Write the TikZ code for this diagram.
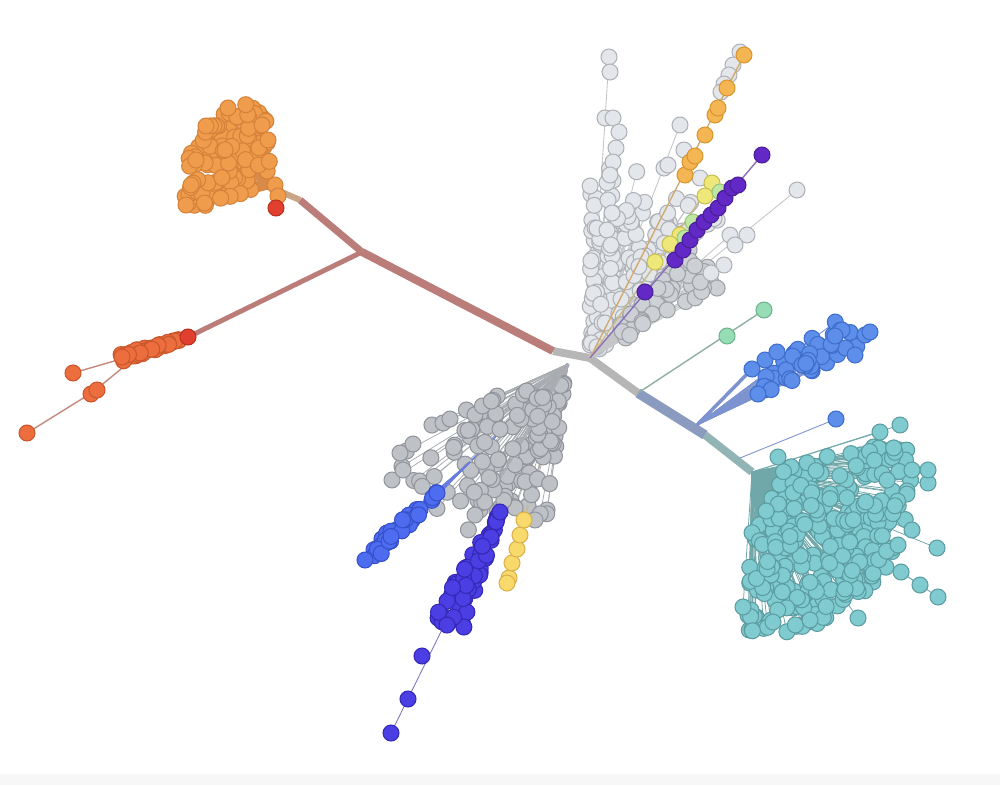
\documentclass[tikz,border=0pt]{standalone}
\usetikzlibrary{calc}
\definecolor{orangefill}{HTML}{EF9D4C}\definecolor{orangeline}{HTML}{D5813A}\definecolor{orangelinkc}{HTML}{D88A48}
\definecolor{redfill}{HTML}{EC6E3E}\definecolor{redline}{HTML}{C9562C}\definecolor{redlinkc}{HTML}{C38A7C}
\definecolor{hotfill}{HTML}{E2402E}\definecolor{hotline}{HTML}{B83020}
\definecolor{tealfill}{HTML}{7FCBD0}\definecolor{tealline}{HTML}{5C9CA1}\definecolor{teallinkc}{HTML}{70A7A9}
\definecolor{grayfill}{HTML}{BEC1C6}\definecolor{grayline}{HTML}{91959B}\definecolor{graylinkc}{HTML}{A9ADB1}
\definecolor{palefill}{HTML}{E3E7EB}\definecolor{paleline}{HTML}{AEB2B6}\definecolor{palelinkc}{HTML}{C4C6C8}
\definecolor{dimfill}{HTML}{CDD1D6}\definecolor{dimline}{HTML}{9DA1A6}
\definecolor{bluefill}{HTML}{5D8EEA}\definecolor{blueline}{HTML}{3E6DCC}\definecolor{bluelinkc}{HTML}{7D93CF}
\definecolor{royalfill}{HTML}{4D6CF0}\definecolor{royalline}{HTML}{3550C8}\definecolor{royallinkc}{HTML}{6A7DE0}
\definecolor{indigofill}{HTML}{4B3EE2}\definecolor{indigoline}{HTML}{3528B5}\definecolor{indigolinkc}{HTML}{8077BE}
\definecolor{yellowfill}{HTML}{F8D96B}\definecolor{yellowline}{HTML}{DAB048}\definecolor{yellowlinkc}{HTML}{C9BA8A}
\definecolor{goldfill}{HTML}{F4B553}\definecolor{goldline}{HTML}{D8952D}\definecolor{goldlinkc}{HTML}{D0AA70}
\definecolor{purplefill}{HTML}{6329C6}\definecolor{purpleline}{HTML}{4A1E98}\definecolor{purplelinkc}{HTML}{8A70B8}
\definecolor{limefill}{HTML}{EEE77A}\definecolor{limeline}{HTML}{C8BE50}
\definecolor{mintfill}{HTML}{BEE8A2}\definecolor{mintline}{HTML}{98C47C}
\definecolor{greenfill}{HTML}{96DDB6}\definecolor{greenline}{HTML}{6DB38D}\definecolor{greenlinkc}{HTML}{8FAFA0}
\definecolor{hubgray}{HTML}{B6B6B6}\definecolor{brownred}{HTML}{BA7D79}\definecolor{tan}{HTML}{C9A487}
\definecolor{bluegray}{HTML}{8B9BC0}\definecolor{tealgray}{HTML}{92B4B4}
\tikzstyle{orangedot} = [fill=orangefill, draw=orangeline, line width=0.6pt]
\tikzstyle{orangelink} = [draw=orangelinkc, line width=0.5pt]
\tikzstyle{reddot} = [fill=redfill, draw=redline, line width=0.6pt]
\tikzstyle{redlink} = [draw=redlinkc, line width=0.8pt]
\tikzstyle{hotdot} = [fill=hotfill, draw=hotline, line width=0.6pt]
\tikzstyle{tealdot} = [fill=tealfill, draw=tealline, line width=0.6pt]
\tikzstyle{teallink} = [draw=teallinkc, line width=0.45pt]
\tikzstyle{graydot} = [fill=grayfill, draw=grayline, line width=0.6pt]
\tikzstyle{graylink} = [draw=graylinkc, line width=0.45pt]
\tikzstyle{paledot} = [fill=palefill, draw=paleline, line width=0.6pt]
\tikzstyle{palelink} = [draw=palelinkc, line width=0.5pt]
\tikzstyle{dimdot} = [fill=dimfill, draw=dimline, line width=0.6pt]
\tikzstyle{dimlink} = [draw=palelinkc, line width=0.5pt]
\tikzstyle{bluedot} = [fill=bluefill, draw=blueline, line width=0.6pt]
\tikzstyle{bluelink} = [draw=bluelinkc, line width=0.5pt]
\tikzstyle{royaldot} = [fill=royalfill, draw=royalline, line width=0.6pt]
\tikzstyle{royallink} = [draw=royallinkc, line width=0.5pt]
\tikzstyle{indigodot} = [fill=indigofill, draw=indigoline, line width=0.6pt]
\tikzstyle{indigolink} = [draw=indigolinkc, line width=0.5pt]
\tikzstyle{yellowdot} = [fill=yellowfill, draw=yellowline, line width=0.6pt]
\tikzstyle{yellowlink} = [draw=yellowlinkc, line width=0.8pt]
\tikzstyle{golddot} = [fill=goldfill, draw=goldline, line width=0.6pt]
\tikzstyle{goldlink} = [draw=goldlinkc, line width=0.8pt]
\tikzstyle{purpledot} = [fill=purplefill, draw=purpleline, line width=0.6pt]
\tikzstyle{purplelink} = [draw=purplelinkc, line width=0.8pt]
\tikzstyle{limedot} = [fill=limefill, draw=limeline, line width=0.6pt]
\tikzstyle{mintdot} = [fill=mintfill, draw=mintline, line width=0.6pt]
\tikzstyle{greendot} = [fill=greenfill, draw=greenline, line width=0.6pt]
\tikzstyle{greenlink} = [draw=greenlinkc, line width=0.8pt]
\tikzstyle{trunk} = [line width=4.5pt]

% fan of leaves: style, root, angle from, angle to, radius from, radius to, count, seed, radius power
\newcommand{\leaffan}[9]{%
  \pgfmathsetseed{#8}%
  \foreach \k in {1,...,#7}{%
    \pgfmathsetmacro{\ang}{#3+(#4-#3)*rnd}%
    \pgfmathsetmacro{\rad}{#5+(#6-#5)*rnd^#9}%
    \draw[#1link] (#2) -- ++(\ang:\rad);
  }%
  \pgfmathsetseed{#8}%
  \foreach \k in {1,...,#7}{%
    \pgfmathsetmacro{\ang}{#3+(#4-#3)*rnd}%
    \pgfmathsetmacro{\rad}{#5+(#6-#5)*rnd^#9}%
    \draw[#1dot] (#2) ++(\ang:\rad) circle[radius=0.16cm];
  }%
}
\newcommand{\leaf}[2]{\draw[#1dot] (#2) circle[radius=0.16cm];}

\begin{document}
\begin{tikzpicture}[x=0.02cm,y=-0.02cm]
\useasboundingbox (0,0) rectangle (1000,785);
\fill[black!3] (0,774) rectangle (1000,785);

\coordinate (hub) at (590,358);
\coordinate (hubL) at (568,364);
\coordinate (redjoin) at (553,351);
\coordinate (split) at (362,252);
\coordinate (orjoin) at (300,200);
\coordinate (orroot) at (272,188);
\coordinate (rdroot) at (186,338);
\coordinate (bluejoin) at (638,393);
\coordinate (bluemid) at (697,425);
\coordinate (tealjoin) at (705,435);
\coordinate (tealroot) at (752,472);
\coordinate (royalroot) at (470,462);
\coordinate (indigoroot) at (500,512);
\coordinate (yellowroot) at (528,505);

% trunks
\draw[trunk, hubgray] (redjoin) -- (hub) -- (bluejoin);
\draw[trunk, brownred] (redjoin) -- (split);
\draw[trunk, brownred, line width=4pt] (split) -- (orjoin);
\draw[tan, line width=3.5pt] (orjoin) -- (orroot);
\draw[brownred, line width=2.8pt] (split) -- (rdroot);
\draw[bluegray, line width=5.5pt] (bluejoin) -- (tealjoin);
\draw[tealgray, line width=4.5pt] (tealjoin) -- (tealroot);
\draw[indigolink, line width=2pt] (hubL) -- (indigoroot);
\draw[royallink, line width=1pt] (hubL) -- (royalroot);
\draw[yellowlink] (hubL) -- (yellowroot);
\draw[greenlink] (bluejoin) -- (764,310);

% top pale fan
\draw[palelink] (hub) -- (609,57);
\draw[palelink] (hub) -- (797,190);
\draw[palelink] (hub) -- (680,125);
\leaffan{pale}{hub}{-90}{-40}{12}{195}{180}{11}{1}
\leaffan{dim}{hub}{-48}{-28}{40}{150}{45}{12}{1}
\foreach \px/\py in {609/57,610/72,605/118,613/118,619/132,616/148,613/162,610/175,608/200,612/213,607/230,611/245,
  680/125,664/168,684/150,797/190,747/235,735/245,724/265,711/273,740/52,733/65,729/75,724/84,721/92,668/165,700/178}
  {\leaf{pale}{\px,\py}}
% gold chain
\draw[goldlink] (hub) -- (744,55);
\foreach \px/\py in {685/175,690/162,695/156,705/135,715/115,718/108,727/88,744/55}
  {\leaf{gold}{\px,\py}}
% lime and mint
\draw[yellowlink] (hub) -- (712,183);
\foreach \px/\py in {712/183,705/196,680/235,670/244,655/262}
  {\leaf{lime}{\px,\py}}
\foreach \px/\py in {720/192,693/222,685/238}
  {\leaf{mint}{\px,\py}}
% purple chain
\draw[purplelink] (hub) -- (762,155);
\foreach \px/\py in {645/292,675/260,683/250,690/240,697/230,704/222,711/215,718/208,725/198,732/188,738/185,762/155}
  {\leaf{purple}{\px,\py}}

% lower left gray
\draw[graylink] (hubL) -- (443,423);
\draw[graylink] (hubL) -- (392,480);
\leaffan{gray}{hubL}{98}{120}{15}{165}{70}{21}{1}
\leaffan{gray}{hubL}{120}{156}{40}{200}{70}{22}{1}
\foreach \px/\py in {443/423,450/419,392/480,403/470,400/453,413/444,475/515,535/520}
  {\leaf{gray}{\px,\py}}
% royal blue chain
\leaffan{royal}{royalroot}{134}{140}{45}{140}{30}{31}{1}
\leaf{royal}{365,560}
\leaf{royal}{437,493}
% indigo
\draw[indigolink] (indigoroot) -- (391,733);
\leaffan{indigo}{indigoroot}{107}{123}{5}{125}{60}{41}{1}
\foreach \px/\py in {422/656,408/699,391/733,500/512,447/625}
  {\leaf{indigo}{\px,\py}}
% yellow
\draw[yellowlink] (yellowroot) -- (507,583);
\foreach \px/\py in {509/578,512/563,517/549,520/535,524/520,507/583}
  {\leaf{yellow}{\px,\py}}

% orange
\leaffan{orange}{orroot}{165}{265}{15}{88}{120}{51}{0.6}
\foreach \px/\py in {186/205,191/185,196/160,206/126,228/108,262/125,268/140,275/185,278/196}
  {\leaf{orange}{\px,\py}}
\leaf{hot}{276,208}

% red
\draw[redlink] (rdroot) -- (128,357) -- (73,373);
\draw[redlink] (rdroot) -- (132,360) -- (93,392) -- (27,433);
\leaffan{red}{rdroot}{159}{168}{5}{68}{40}{61}{1}
\foreach \px/\py in {73/373,91/394,97/390,27/433,122/357}
  {\leaf{red}{\px,\py}}
\leaf{hot}{188,337}

% green
\leaf{green}{727,336}
\leaf{green}{764,310}

% upper right blue
\draw[bluelink, line width=2pt] (bluemid) -- (752,369);
\draw[bluelink] (740,458) -- (836,419);
\leaffan{blue}{bluemid}{-38}{-25}{70}{185}{40}{71}{1}
\foreach \px/\py in {752/369,765/360,777/352,842/330,835/336,865/335,870/332,855/355,758/394,836/419}
  {\leaf{blue}{\px,\py}}

% teal
\foreach \px/\py in {938/597,920/585,901/572,937/548,912/530,928/483,928/470,900/425,880/432,858/618,773/622,743/607,810/620}
  {\draw[teallink] (tealroot) -- (\px,\py);}
\leaffan{teal}{tealroot}{-12}{92}{10}{165}{270}{81}{0.5}
\foreach \px/\py in {938/597,920/585,901/572,937/548,912/530,898/545,928/483,928/470,912/470,900/425,880/432,858/618,773/622,743/607,810/620,778/457}
  {\leaf{teal}{\px,\py}}
\end{tikzpicture}
\end{document}
